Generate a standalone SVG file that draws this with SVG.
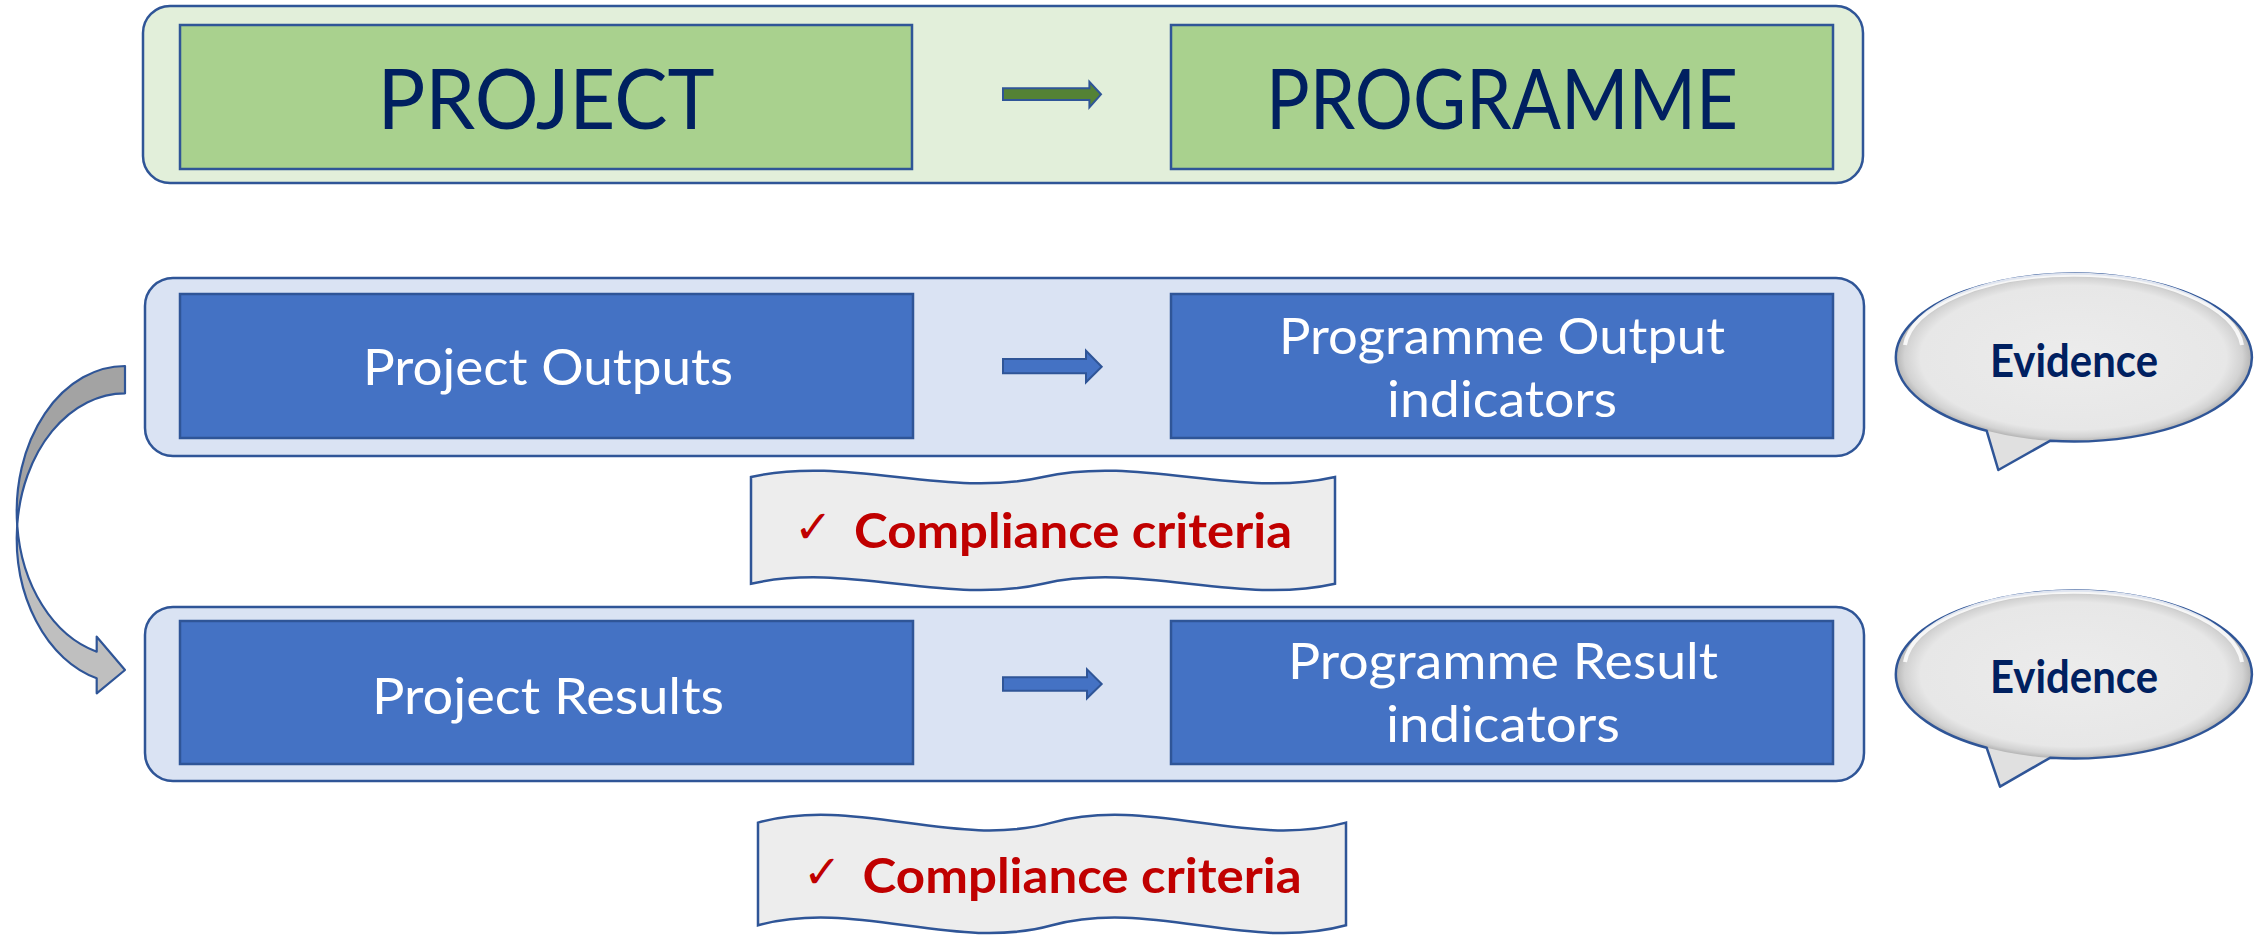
<svg xmlns="http://www.w3.org/2000/svg" width="2254" height="935" viewBox="0 0 2254 935">
<style>
.cont-g{fill:#e2efda;stroke:#2f5597;stroke-width:2.5}
.cont-b{fill:#dae3f3;stroke:#2f5597;stroke-width:2.5}
.box-g{fill:#a9d18e;stroke:#2f5597;stroke-width:2.5}
.box-b{fill:#4472c4;stroke:#2f5597;stroke-width:2.5}
.arr-g{fill:#548235;stroke:#2f5597;stroke-width:2}
.arr-b{fill:#4472c4;stroke:#2f5597;stroke-width:2}
.banner{fill:#ededed;stroke:#2f5597;stroke-width:2.5}
.bub-base{fill:#e0e0e0;stroke:none}
.bub-line{fill:none;stroke:#2f5597;stroke-width:2.5;stroke-linejoin:round}
.hl{fill:none;stroke:#ffffff;stroke-width:4;stroke-opacity:0.85}
.big{font-family:Lato,"Liberation Sans",sans-serif;font-size:84px;fill:#002060;text-anchor:middle}
.lbl{font-family:Lato,"Liberation Sans",sans-serif;font-size:50px;fill:#ffffff;text-anchor:middle}
.ev{font-family:Lato,"Liberation Sans",sans-serif;font-weight:bold;font-size:46px;fill:#002060;text-anchor:middle}
.cc{font-family:Lato,"Liberation Sans",sans-serif;font-weight:bold;font-size:48px;fill:#c00000}
.chk{font-family:"DejaVu Serif","DejaVu Sans",serif;font-size:46px;fill:#c00000}
.cv-dark{fill:#a3a3a3;stroke:#2f5597;stroke-width:2.2;stroke-linejoin:round}
.cv-light{fill:#bfbfbf;stroke:#2f5597;stroke-width:2.2;stroke-linejoin:round}
</style>
<defs>
<radialGradient id="bub" cx="0.5" cy="0.5" r="0.5">
<stop offset="0" stop-color="#ececec"/>
<stop offset="0.86" stop-color="#e7e7e7"/>
<stop offset="0.95" stop-color="#d2d2d2"/>
<stop offset="1" stop-color="#b4b4b4"/>
</radialGradient>
</defs>

<g id="top-row">
<rect class="cont-g" x="143" y="6" width="1720" height="177" rx="27" ry="27"/>
</g>
<g id="project">
<rect class="box-g" x="180" y="25" width="732" height="144"/>
<text class="big" x="546" y="129" textLength="337" lengthAdjust="spacingAndGlyphs">PROJECT</text>
</g>
<g id="programme">
<rect class="box-g" x="1171" y="25" width="662" height="144"/>
<text class="big" x="1502" y="129" textLength="472" lengthAdjust="spacingAndGlyphs">PROGRAMME</text>
</g>

<g id="row-outputs">
<rect class="cont-b" x="145" y="278" width="1719" height="178" rx="28" ry="28"/>
</g>
<g id="project-outputs">
<rect class="box-b" x="180" y="294" width="733" height="144"/>
<text class="lbl" x="548" y="385" textLength="370" lengthAdjust="spacingAndGlyphs">Project Outputs</text>
</g>
<g id="programme-output-indicators">
<rect class="box-b" x="1171" y="294" width="662" height="144"/>
<text class="lbl" x="1502" y="354" textLength="446" lengthAdjust="spacingAndGlyphs">Programme Output</text>
<text class="lbl" x="1502" y="416.7" textLength="230" lengthAdjust="spacingAndGlyphs">indicators</text>
</g>

<g id="row-results">
<rect class="cont-b" x="145" y="607" width="1719" height="174" rx="28" ry="28"/>
</g>
<g id="project-results">
<rect class="box-b" x="180" y="621" width="733" height="143"/>
<text class="lbl" x="548" y="713.5" textLength="352" lengthAdjust="spacingAndGlyphs">Project Results</text>
</g>
<g id="programme-result-indicators">
<rect class="box-b" x="1171" y="621" width="662" height="143"/>
<text class="lbl" x="1503" y="679" textLength="430" lengthAdjust="spacingAndGlyphs">Programme Result</text>
<text class="lbl" x="1503" y="741.7" textLength="234" lengthAdjust="spacingAndGlyphs">indicators</text>
</g>

<g id="evidence-1">
<path class="bub-base" d="M2050,440.8 A178 84 0 1 0 1986.7,430.8 L1998.3,470 Z"/>
<ellipse cx="2073.5" cy="357.5" rx="178" ry="84" fill="url(#bub)"/>
<path class="bub-line" d="M2050,440.8 A178 84 0 1 0 1986.7,430.8 L1998.3,470 Z"/>
<path class="hl" d="M1905,345 A169 76 0 0 1 2242,345"/>
<text class="ev" x="2074" y="376.7" textLength="168" lengthAdjust="spacingAndGlyphs">Evidence</text>
</g>
<g id="evidence-2">
<path class="bub-base" d="M2050,757.8 A178 84 0 1 0 1986.7,747.8 L2000,786.7 Z"/>
<ellipse cx="2073.5" cy="674.5" rx="178" ry="84" fill="url(#bub)"/>
<path class="bub-line" d="M2050,757.8 A178 84 0 1 0 1986.7,747.8 L2000,786.7 Z"/>
<path class="hl" d="M1905,662 A169 76 0 0 1 2242,662"/>
<text class="ev" x="2074" y="693.3" textLength="168" lengthAdjust="spacingAndGlyphs">Evidence</text>
</g>

<g id="compliance-1">
<path class="banner" d="M751,477 C848,455 946,499 1043,477 C1140,455 1238,499 1335,477 L1335,583.7 C1238,605.7 1140,561.7 1043,583.7 C946,605.7 848,561.7 751,583.7 Z"/>
<text class="chk" x="794" y="543">✓</text>
<text class="cc" x="854" y="548" textLength="438" lengthAdjust="spacingAndGlyphs">Compliance criteria</text>
</g>
<g id="compliance-2">
<path class="banner" d="M758,822.6 C856,795.6 954,849.6 1052,822.6 C1150,795.6 1248,849.6 1346,822.6 L1346,925.3 C1248,952.3 1150,898.3 1052,925.3 C954,952.3 856,898.3 758,925.3 Z"/>
<text class="chk" x="803" y="888">✓</text>
<text class="cc" x="862.6" y="892.7" textLength="439" lengthAdjust="spacingAndGlyphs">Compliance criteria</text>
</g>

<g id="connectors">
<path class="arr-g" d="M1003,88.3 L1089.4,88.3 L1089.4,81.7 L1101,94.3 L1089.4,107.3 L1089.4,100 L1003,100 Z"/>
<path class="arr-b" d="M1003,359 L1086,359 L1086,350.7 L1101.7,366.7 L1086,382.3 L1086,373.3 L1003,373.3 Z"/>
<path class="arr-b" d="M1003,677.3 L1087,677.3 L1087,669.3 L1101.7,684 L1087,698.3 L1087,690.7 L1003,690.7 Z"/>
<g id="curved-arrow">
<path class="cv-dark" d="M125,366 A108.3 145.2 0 0 0 17.2,525 A108.3 145.2 0 0 1 125,393.3 Z"/>
<path class="cv-light" d="M17.2,525 A108.3 145.2 0 0 0 96.7,678.3 L96.7,693.3 L125,670 L96.7,636.7 L96.7,651.7 A108.3 145.2 0 0 1 17.2,525 Z"/>
</g>
</g>
</svg>
